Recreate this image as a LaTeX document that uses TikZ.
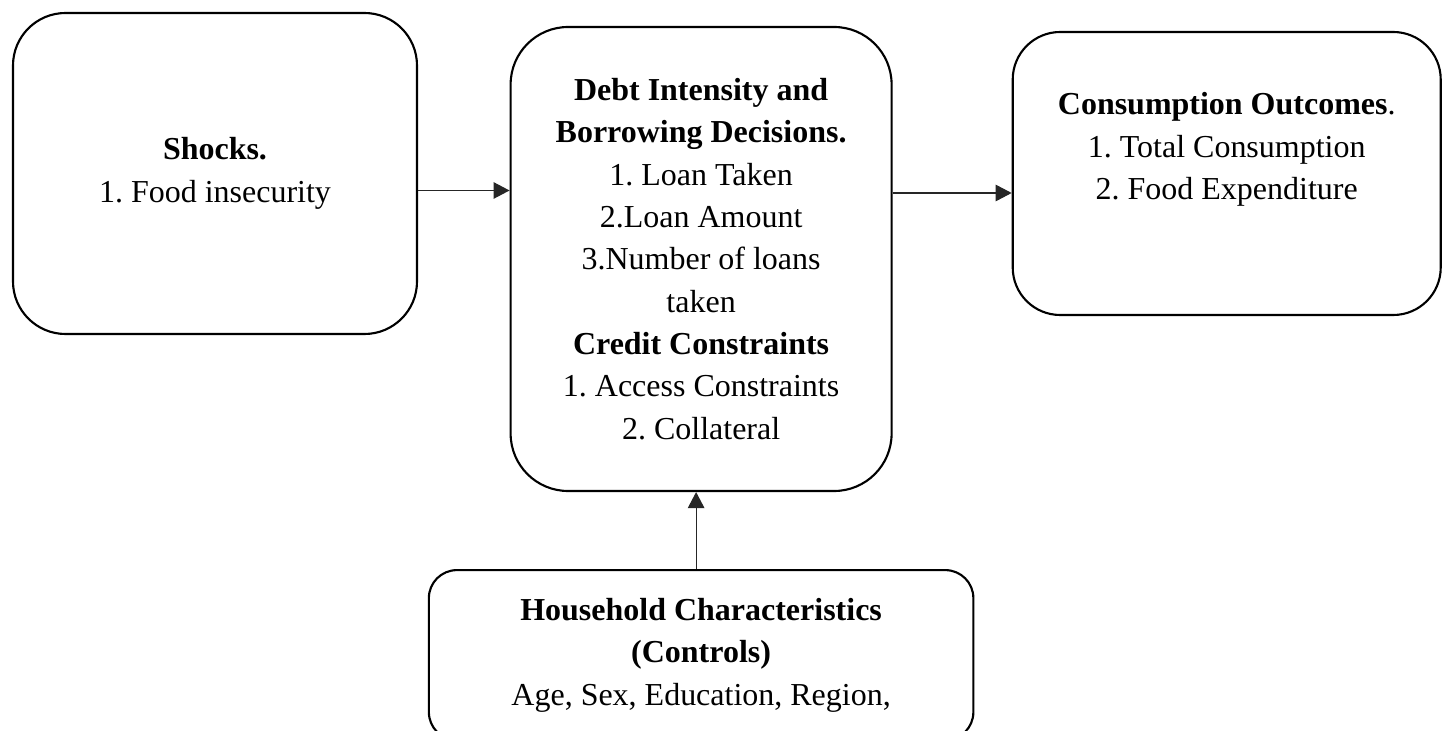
\documentclass[tikz,border=0pt]{standalone}
\usepackage{fontspec}
\setmainfont{Liberation Serif}
\frenchspacing
\usepackage{tikz}
\usetikzlibrary{arrows.meta, positioning}
\tikzset{
    block/.style={
        rectangle, draw=black, line width=1.2pt, align=center,
        font=\fontsize{18.2}{24.1}\selectfont
    },
    arrow/.style={
        -{Triangle[length=0.32cm, width=0.33cm]}, line width=0.65pt, draw=black!85
    }
}

\begin{document}
\begin{tikzpicture}

    \useasboundingbox (0,0) rectangle (28.9,-14.62);
    \clip (0,0) rectangle (28.9,-14.62);

    % ── Nodes ──
    \node[block, rounded corners=1.05cm, minimum width=8.08cm, minimum height=6.42cm]
        (shocks) at (4.30,-3.47) {\textbf{Shocks.}\\1. Food insecurity};
    \node[block, rounded corners=1.15cm, minimum width=7.62cm, minimum height=9.28cm,
          right=1.83cm of shocks, yshift=-1.71cm]
        (debt) {\textbf{Debt Intensity and}\\\textbf{Borrowing Decisions.}\\1. Loan Taken\\2.Loan Amount\\3.Number of loans\\taken\\\textbf{Credit Constraints}\\1. Access Constraints\\2. Collateral};
    \node[block, rounded corners=0.95cm, minimum width=8.56cm, minimum height=5.66cm,
          right=2.38cm of debt, yshift=1.71cm]
        (outcomes) {\textbf{Consumption Outcomes}.\\1. Total Consumption\\2. Food Expenditure\\\strut};
    \node[block, rounded corners=0.56cm, minimum width=10.89cm, minimum height=3.4cm,
          below=1.54cm of debt]
        (house) {\textbf{Household Characteristics}\\\textbf{(Controls)}\\Age, Sex, Education, Region,};

    % ── Arrows ──
    \draw[arrow] ([yshift=-0.34cm]shocks.east) -- ([yshift=-0.34cm]shocks.east -| debt.west);
    \draw[arrow] ([yshift=-0.39cm]outcomes.west -| debt.east) -- ([yshift=-0.39cm]outcomes.west);
    \draw[arrow] ([xshift=-0.1cm]house.north) -- ([xshift=-0.1cm]debt.south);

\end{tikzpicture}
\end{document}
